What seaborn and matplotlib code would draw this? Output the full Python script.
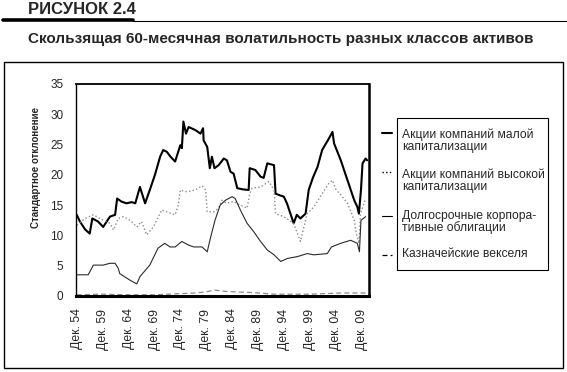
import pandas as pd
import matplotlib
matplotlib.use("Agg")
import matplotlib.pyplot as plt
from matplotlib.lines import Line2D
from matplotlib.patches import Rectangle
import seaborn as sns

# Rolling 60-month volatility
small_years = [1954.9, 1955.5, 1956.5, 1957.4, 1957.9, 1959.0, 1960.0, 1961.3, 1962.3, 1962.7,
               1963.5, 1964.5, 1965.5, 1966.2, 1967.1, 1968.1, 1969.0, 1970.0, 1971.0, 1971.6,
               1972.3, 1973.0, 1973.9, 1974.9, 1975.2, 1975.5, 1976.0, 1976.5, 1977.8, 1978.8,
               1979.3, 1979.4, 1980.1, 1980.6, 1981.0, 1981.5, 1982.3, 1983.3, 1983.9, 1984.6,
               1985.2, 1985.9, 1987.0, 1988.1, 1988.3, 1989.4, 1990.4, 1991.0, 1991.7, 1993.0,
               1993.3, 1994.2, 1994.9, 1995.5, 1996.8, 1997.4, 1998.1, 1999.1, 1999.7, 2000.5,
               2001.4, 2002.3, 2003.6, 2004.3, 2004.6, 2005.9, 2007.2, 2008.5, 2009.1, 2009.4,
               2009.8, 2010.1, 2010.7, 2011.0]
small_cap = [13.4, 12.3, 11.0, 10.3, 12.8, 12.3, 11.4, 13.1, 13.4, 16.1,
             15.6, 15.3, 15.5, 15.3, 18.0, 15.3, 17.5, 20.0, 23.0, 24.1,
             23.8, 23.0, 22.2, 24.9, 24.4, 28.8, 26.8, 27.9, 27.4, 26.8,
             27.7, 25.7, 24.6, 21.1, 23.0, 21.1, 21.6, 22.7, 22.4, 20.5,
             20.2, 17.8, 17.6, 17.5, 21.1, 20.8, 19.7, 19.5, 21.9, 21.6,
             16.9, 16.6, 16.4, 15.3, 12.0, 13.4, 12.8, 13.6, 17.5, 19.5,
             21.3, 24.1, 26.0, 27.1, 25.2, 22.4, 19.1, 15.8, 14.7, 13.6,
             17.5, 21.9, 22.7, 22.4]

large_years = [1954.9, 1956.5, 1958.1, 1960.0, 1961.3, 1962.0, 1962.9, 1963.9, 1965.2, 1966.5,
               1967.4, 1968.4, 1969.7, 1971.3, 1972.3, 1973.9, 1974.5, 1974.9, 1976.2, 1977.8,
               1979.1, 1979.8, 1980.1, 1981.4, 1982.3, 1982.9, 1983.9, 1985.2, 1986.5, 1987.8,
               1988.3, 1988.8, 1990.4, 1992.0, 1993.0, 1993.3, 1994.9, 1996.8, 1998.1, 1999.4,
               2000.7, 2002.3, 2003.6, 2004.3, 2005.0, 2005.9, 2007.2, 2008.5, 2008.9, 2009.4,
               2009.7, 2010.7]
large_cap = [11.7, 12.8, 13.4, 12.5, 12.0, 10.9, 12.8, 13.1, 12.5, 11.4,
             12.3, 10.1, 11.4, 14.2, 13.9, 13.4, 15.0, 17.5, 17.2, 17.5,
             18.2, 17.5, 13.9, 13.9, 14.5, 15.8, 15.3, 15.6, 15.0, 14.5,
             16.9, 17.8, 18.0, 18.9, 17.5, 13.6, 13.1, 12.0, 9.0, 13.6,
             14.7, 16.9, 18.6, 19.1, 17.5, 16.7, 15.3, 12.5, 10.3, 8.7,
             13.6, 16.1]

bond_years = [1954.9, 1957.1, 1957.8, 1958.1, 1960.0, 1961.3, 1962.3, 1962.9, 1963.2, 1965.2,
              1966.5, 1967.1, 1969.0, 1970.6, 1971.9, 1972.9, 1973.9, 1975.2, 1976.5, 1977.5,
              1979.1, 1980.1, 1980.7, 1981.6, 1982.6, 1983.6, 1984.9, 1985.5, 1986.5, 1987.8,
              1989.1, 1990.4, 1991.7, 1993.0, 1994.3, 1995.6, 1997.5, 1999.4, 2000.7, 2003.3,
              2004.1, 2005.9, 2007.8, 2009.1, 2009.5, 2009.8, 2010.7]
corp_bonds = [3.5, 3.5, 4.6, 5.1, 5.1, 5.4, 5.4, 4.6, 3.7, 2.6,
              2.0, 3.2, 5.1, 7.9, 8.7, 8.1, 8.1, 9.0, 8.4, 8.1,
              8.1, 7.3, 9.5, 12.5, 15.0, 15.8, 16.4, 16.1, 14.2, 12.0,
              10.6, 9.0, 7.6, 6.8, 5.7, 6.2, 6.5, 7.0, 6.8, 7.0,
              8.1, 8.7, 9.2, 8.7, 7.3, 12.5, 13.1]

bill_years = [1954.9, 1960.0, 1965.0, 1970.0, 1975.0, 1978.0, 1980.0, 1981.5, 1983.0, 1985.0,
              1988.0, 1990.0, 1993.0, 1996.0, 2000.0, 2003.0, 2006.0, 2009.0, 2011.0]
t_bills = [0.2, 0.3, 0.2, 0.2, 0.4, 0.5, 0.7, 1.0, 0.8, 0.7,
           0.6, 0.5, 0.3, 0.3, 0.3, 0.4, 0.5, 0.5, 0.5]

tick_years = [1954.92 + 5 * i for i in range(12)]
tick_labels = ["Дек. 54", "Дек. 59", "Дек. 64", "Дек. 69", "Дек. 74", "Дек. 79",
               "Дек. 84", "Дек. 89", "Дек. 94", "Дек. 99", "Дек. 04", "Дек. 09"]

legend_labels = ["Акции компаний малой\nкапитализации",
                 "Акции компаний высокой\nкапитализации",
                 "Долгосрочные корпора-\nтивные облигации",
                 "Казначейские векселя"]

sns.set_theme(style="white")
plt.rcParams['font.family'] = ['Liberation Sans', 'DejaVu Sans']

W, H = 567, 372
fig = plt.figure(figsize=(W / 100, H / 100), dpi=100)


def fx(px):
    return px / W


def fy(py):
    return 1 - py / H


# header
fig.text(fx(28), fy(9), "РИСУНОК 2.4", fontsize=12, fontweight="bold", va="center", ha="left")
fig.add_artist(Line2D([fx(3), fx(133)], [fy(20), fy(20)], color="black", lw=2.6))
fig.add_artist(Line2D([fx(133), fx(567)], [fy(20.5), fy(20.5)], color="black", lw=0.8))
fig.text(fx(28), fy(39), "Скользящая 60-месячная волатильность разных классов активов",
         fontsize=11, fontweight="bold", va="center", ha="left")

# outer frame
fig.add_artist(Rectangle((fx(4), fy(368)), fx(559), (368 - 62) / H, fill=False,
                         edgecolor="black", lw=1.0))

ax = fig.add_axes([fx(76), fy(296), fx(369 - 76), (296 - 84) / H])

styles = [
    (small_years, small_cap, dict(color="black", lw=1.5, linestyle="-")),
    (large_years, large_cap, dict(color="#8a8a8a", lw=1.0, linestyle=":")),
    (bond_years, corp_bonds, dict(color="#2a2a2a", lw=0.8, linestyle="-")),
    (bill_years, t_bills, dict(color="#8a8a8a", lw=0.9, linestyle=(0, (4, 2.5)))),
]
for yrs, vals, st in styles:
    df = pd.DataFrame({"year": yrs, "vol": vals})
    sns.lineplot(data=df, x="year", y="vol", ax=ax, estimator=None, sort=False, **st)

ax.set_xlim(1954.75, 2011.35)
ax.set_ylim(0, 35)
ax.set_yticks(range(0, 36, 5))
ax.set_xticks(tick_years)
ax.set_xticklabels(tick_labels, rotation=90, fontsize=8.8)
ax.tick_params(axis="y", labelsize=8.5, length=0, pad=9)
ax.tick_params(axis="x", length=0, pad=9)
ax.set_xlabel("")
ax.set_ylabel("")
for side, lw in [("bottom", 2.2), ("right", 1.8), ("top", 1.3), ("left", 1.0)]:
    ax.spines[side].set_visible(True)
    ax.spines[side].set_color("black")
    ax.spines[side].set_linewidth(lw)

fig.text(fx(36), fy(167), "Стандартное отклонение", rotation=90, fontsize=7,
         fontweight="bold", va="center", ha="center")

# legend drawn by hand: samples sit outside the box
fig.add_artist(Rectangle((fx(397), fy(270)), fx(548 - 397), (270 - 118) / H, fill=False,
                         edgecolor="black", lw=0.8))
sample_y = [132.5, 172.5, 216, 255]
text_y = [140.5, 180.5, 222, 254]
for (yrs, vals, st), sy, ty, lab in zip(styles, sample_y, text_y, legend_labels):
    st2 = dict(st)
    st2["color"] = "black"
    fig.add_artist(Line2D([fx(382), fx(392)], [fy(sy), fy(sy)], **st2))
    fig.text(fx(402), fy(ty), lab, fontsize=8.7, va="center", ha="left", linespacing=1.0)

fig.savefig("out.png", dpi=100)
